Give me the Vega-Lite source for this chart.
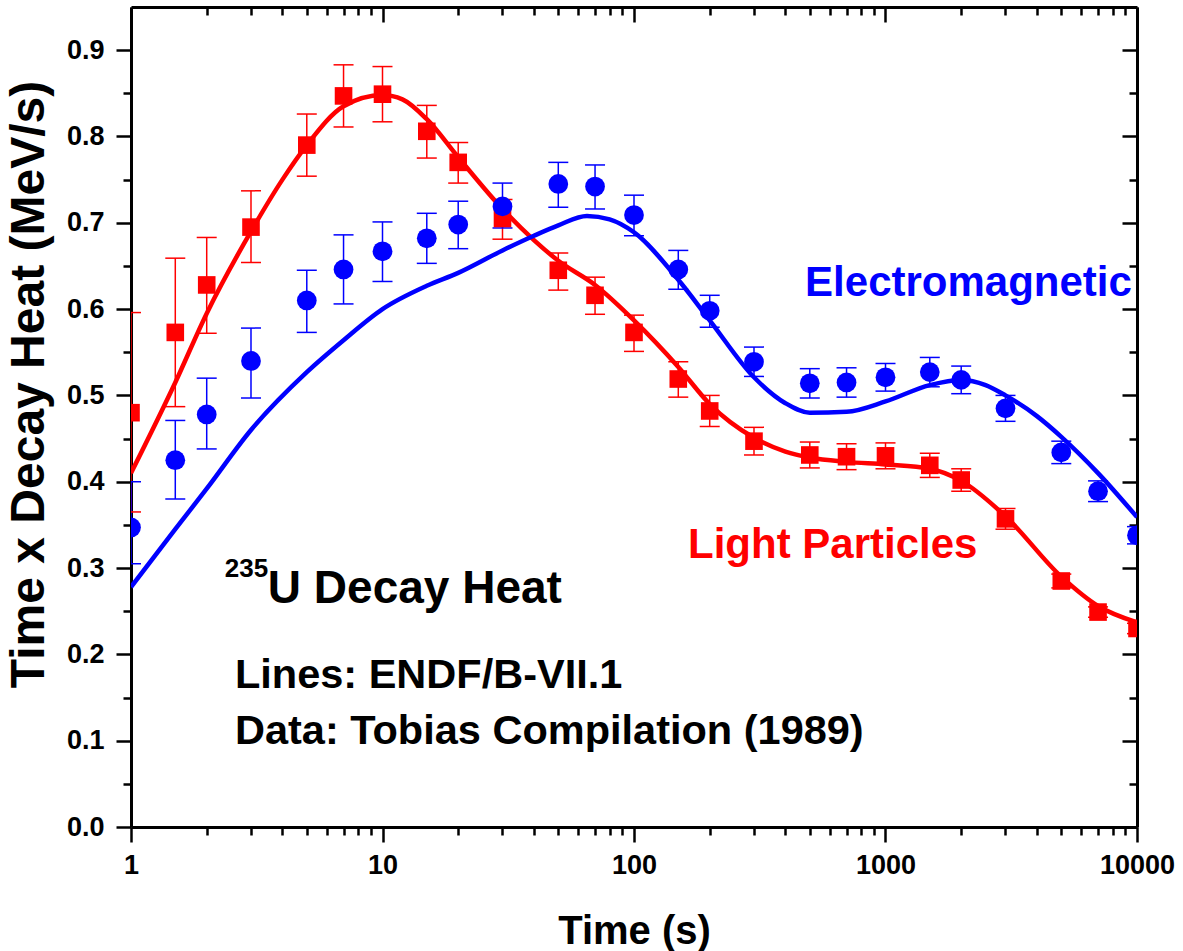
{
  "$schema": "https://vega.github.io/schema/vega-lite/v6.json",
  "width": 1006,
  "height": 820,
  "autosize": {"type": "none"},
  "padding": {"left": 131, "top": 7, "right": 46, "bottom": 124},
  "background": "white",
  "config": {
    "view": {"stroke": null},
    "font": "Liberation Sans",
    "axis": {
      "domainColor": "black", "domainWidth": 3, "tickColor": "black", "tickWidth": 2.5,
      "labelFont": "Liberation Sans", "labelFontWeight": "bold", "labelFontSize": 27, "labelColor": "black",
      "titleFont": "Liberation Sans", "titleFontWeight": "bold", "titleColor": "black", "grid": false
    }
  },
  "datasets": {
    "points": [
      {"series": "Light Particles", "t": 1, "v": 0.48, "lo": 0.365, "hi": 0.596},
      {"series": "Light Particles", "t": 1.5, "v": 0.573, "lo": 0.487, "hi": 0.659},
      {"series": "Light Particles", "t": 2, "v": 0.628, "lo": 0.572, "hi": 0.683},
      {"series": "Light Particles", "t": 3, "v": 0.695, "lo": 0.654, "hi": 0.737},
      {"series": "Light Particles", "t": 5, "v": 0.79, "lo": 0.754, "hi": 0.826},
      {"series": "Light Particles", "t": 7, "v": 0.847, "lo": 0.811, "hi": 0.883},
      {"series": "Light Particles", "t": 10, "v": 0.849, "lo": 0.817, "hi": 0.881},
      {"series": "Light Particles", "t": 15, "v": 0.806, "lo": 0.775, "hi": 0.836},
      {"series": "Light Particles", "t": 20, "v": 0.77, "lo": 0.746, "hi": 0.793},
      {"series": "Light Particles", "t": 30, "v": 0.705, "lo": 0.681, "hi": 0.727},
      {"series": "Light Particles", "t": 50, "v": 0.645, "lo": 0.622, "hi": 0.665},
      {"series": "Light Particles", "t": 70, "v": 0.616, "lo": 0.594, "hi": 0.637},
      {"series": "Light Particles", "t": 100, "v": 0.573, "lo": 0.551, "hi": 0.593},
      {"series": "Light Particles", "t": 150, "v": 0.519, "lo": 0.498, "hi": 0.539},
      {"series": "Light Particles", "t": 200, "v": 0.482, "lo": 0.464, "hi": 0.5},
      {"series": "Light Particles", "t": 300, "v": 0.447, "lo": 0.431, "hi": 0.463},
      {"series": "Light Particles", "t": 500, "v": 0.431, "lo": 0.416, "hi": 0.446},
      {"series": "Light Particles", "t": 700, "v": 0.429, "lo": 0.414, "hi": 0.444},
      {"series": "Light Particles", "t": 1000, "v": 0.43, "lo": 0.415, "hi": 0.445},
      {"series": "Light Particles", "t": 1500, "v": 0.419, "lo": 0.405, "hi": 0.433},
      {"series": "Light Particles", "t": 2000, "v": 0.402, "lo": 0.389, "hi": 0.415},
      {"series": "Light Particles", "t": 3000, "v": 0.357, "lo": 0.345, "hi": 0.369},
      {"series": "Light Particles", "t": 5000, "v": 0.285, "lo": 0.277, "hi": 0.293},
      {"series": "Light Particles", "t": 7000, "v": 0.249, "lo": 0.243, "hi": 0.255},
      {"series": "Light Particles", "t": 10000, "v": 0.23, "lo": 0.224, "hi": 0.236},
      {"series": "Electromagnetic", "t": 1, "v": 0.347, "lo": 0.305, "hi": 0.4},
      {"series": "Electromagnetic", "t": 1.5, "v": 0.425, "lo": 0.38, "hi": 0.471},
      {"series": "Electromagnetic", "t": 2, "v": 0.478, "lo": 0.438, "hi": 0.52},
      {"series": "Electromagnetic", "t": 3, "v": 0.54, "lo": 0.497, "hi": 0.578},
      {"series": "Electromagnetic", "t": 5, "v": 0.61, "lo": 0.573, "hi": 0.645},
      {"series": "Electromagnetic", "t": 7, "v": 0.646, "lo": 0.606, "hi": 0.686},
      {"series": "Electromagnetic", "t": 10, "v": 0.667, "lo": 0.632, "hi": 0.701},
      {"series": "Electromagnetic", "t": 15, "v": 0.682, "lo": 0.653, "hi": 0.711},
      {"series": "Electromagnetic", "t": 20, "v": 0.698, "lo": 0.67, "hi": 0.725},
      {"series": "Electromagnetic", "t": 30, "v": 0.719, "lo": 0.694, "hi": 0.746},
      {"series": "Electromagnetic", "t": 50, "v": 0.745, "lo": 0.718, "hi": 0.77},
      {"series": "Electromagnetic", "t": 70, "v": 0.742, "lo": 0.716, "hi": 0.767},
      {"series": "Electromagnetic", "t": 100, "v": 0.709, "lo": 0.685, "hi": 0.732},
      {"series": "Electromagnetic", "t": 150, "v": 0.646, "lo": 0.623, "hi": 0.668},
      {"series": "Electromagnetic", "t": 200, "v": 0.598, "lo": 0.579, "hi": 0.616},
      {"series": "Electromagnetic", "t": 300, "v": 0.539, "lo": 0.522, "hi": 0.556},
      {"series": "Electromagnetic", "t": 500, "v": 0.514, "lo": 0.497, "hi": 0.531},
      {"series": "Electromagnetic", "t": 700, "v": 0.515, "lo": 0.498, "hi": 0.532},
      {"series": "Electromagnetic", "t": 1000, "v": 0.521, "lo": 0.505, "hi": 0.537},
      {"series": "Electromagnetic", "t": 1500, "v": 0.527, "lo": 0.51, "hi": 0.544},
      {"series": "Electromagnetic", "t": 2000, "v": 0.518, "lo": 0.502, "hi": 0.534},
      {"series": "Electromagnetic", "t": 3000, "v": 0.485, "lo": 0.47, "hi": 0.5},
      {"series": "Electromagnetic", "t": 5000, "v": 0.434, "lo": 0.421, "hi": 0.447},
      {"series": "Electromagnetic", "t": 7000, "v": 0.389, "lo": 0.377, "hi": 0.401},
      {"series": "Electromagnetic", "t": 10000, "v": 0.338, "lo": 0.328, "hi": 0.348}
    ],
    "curves": [
      {"series": "Light Particles", "t": 1, "v": 0.41},
      {"series": "Light Particles", "t": 1.5, "v": 0.515},
      {"series": "Light Particles", "t": 2, "v": 0.595},
      {"series": "Light Particles", "t": 3, "v": 0.69},
      {"series": "Light Particles", "t": 4, "v": 0.75},
      {"series": "Light Particles", "t": 5, "v": 0.79},
      {"series": "Light Particles", "t": 7, "v": 0.835},
      {"series": "Light Particles", "t": 10, "v": 0.848},
      {"series": "Light Particles", "t": 12, "v": 0.843},
      {"series": "Light Particles", "t": 15, "v": 0.82},
      {"series": "Light Particles", "t": 20, "v": 0.776},
      {"series": "Light Particles", "t": 30, "v": 0.716},
      {"series": "Light Particles", "t": 40, "v": 0.68},
      {"series": "Light Particles", "t": 50, "v": 0.656},
      {"series": "Light Particles", "t": 70, "v": 0.628},
      {"series": "Light Particles", "t": 100, "v": 0.587},
      {"series": "Light Particles", "t": 150, "v": 0.533},
      {"series": "Light Particles", "t": 200, "v": 0.49},
      {"series": "Light Particles", "t": 300, "v": 0.451},
      {"series": "Light Particles", "t": 400, "v": 0.435},
      {"series": "Light Particles", "t": 500, "v": 0.428},
      {"series": "Light Particles", "t": 700, "v": 0.423},
      {"series": "Light Particles", "t": 1000, "v": 0.42},
      {"series": "Light Particles", "t": 1500, "v": 0.415},
      {"series": "Light Particles", "t": 2000, "v": 0.401},
      {"series": "Light Particles", "t": 3000, "v": 0.36},
      {"series": "Light Particles", "t": 5000, "v": 0.29},
      {"series": "Light Particles", "t": 7000, "v": 0.256},
      {"series": "Light Particles", "t": 10000, "v": 0.237},
      {"series": "Electromagnetic", "t": 1, "v": 0.278},
      {"series": "Electromagnetic", "t": 1.5, "v": 0.345},
      {"series": "Electromagnetic", "t": 2, "v": 0.392},
      {"series": "Electromagnetic", "t": 3, "v": 0.46},
      {"series": "Electromagnetic", "t": 5, "v": 0.527},
      {"series": "Electromagnetic", "t": 7, "v": 0.564},
      {"series": "Electromagnetic", "t": 10, "v": 0.6},
      {"series": "Electromagnetic", "t": 15, "v": 0.627},
      {"series": "Electromagnetic", "t": 20, "v": 0.642},
      {"series": "Electromagnetic", "t": 30, "v": 0.668},
      {"series": "Electromagnetic", "t": 40, "v": 0.685},
      {"series": "Electromagnetic", "t": 50, "v": 0.697},
      {"series": "Electromagnetic", "t": 65, "v": 0.708},
      {"series": "Electromagnetic", "t": 80, "v": 0.704},
      {"series": "Electromagnetic", "t": 100, "v": 0.689},
      {"series": "Electromagnetic", "t": 150, "v": 0.634},
      {"series": "Electromagnetic", "t": 200, "v": 0.587},
      {"series": "Electromagnetic", "t": 300, "v": 0.521},
      {"series": "Electromagnetic", "t": 400, "v": 0.491},
      {"series": "Electromagnetic", "t": 500, "v": 0.48},
      {"series": "Electromagnetic", "t": 700, "v": 0.481},
      {"series": "Electromagnetic", "t": 1000, "v": 0.493},
      {"series": "Electromagnetic", "t": 1500, "v": 0.512},
      {"series": "Electromagnetic", "t": 2000, "v": 0.518},
      {"series": "Electromagnetic", "t": 2500, "v": 0.512},
      {"series": "Electromagnetic", "t": 3000, "v": 0.5},
      {"series": "Electromagnetic", "t": 4000, "v": 0.476},
      {"series": "Electromagnetic", "t": 5000, "v": 0.452},
      {"series": "Electromagnetic", "t": 7000, "v": 0.41},
      {"series": "Electromagnetic", "t": 10000, "v": 0.359}
    ]
  },
  "resolve": {"axis": {"x": "independent", "y": "independent"}},
  "layer": [
    {
      "data": {"name": "curves"},
      "mark": {"type": "line", "strokeWidth": 4.5, "interpolate": "monotone", "clip": true},
      "encoding": {
        "x": {
          "field": "t", "type": "quantitative",
          "scale": {"type": "log", "domain": [1, 10000], "nice": false},
          "axis": {
            "orient": "bottom", "title": "Time (s)", "titleFontSize": 40, "titlePadding": 33,
            "values": [1,2,3,4,5,6,7,8,9,10,20,30,40,50,60,70,80,90,100,200,300,400,500,600,700,800,900,1000,2000,3000,4000,5000,6000,7000,8000,9000,10000],
            "labelExpr": "indexof([1,10,100,1000,10000], datum.value) >= 0 ? datum.value + '' : ''",
            "tickSize": {"condition": {"test": "indexof([1,10,100,1000,10000], datum.value) >= 0", "value": 15}, "value": 8},
            "labelPadding": 10, "labelFlush": false, "labelOverlap": false
          }
        },
        "y": {
          "field": "v", "type": "quantitative",
          "scale": {"domain": [0, 0.95], "nice": false, "zero": false},
          "axis": {
            "orient": "left", "title": "Time x Decay Heat (MeV/s)", "titleFontSize": 48, "titlePadding": 13, "titleY": 377,
            "values": [0,0.05,0.1,0.15,0.2,0.25,0.3,0.35,0.4,0.45,0.5,0.55,0.6,0.65,0.7,0.75,0.8,0.85,0.9],
            "labelExpr": "abs(datum.value*10 - round(datum.value*10)) < 0.001 ? format(datum.value, '.1f') : ''",
            "tickSize": {"condition": {"test": "abs(datum.value*10 - round(datum.value*10)) < 0.001", "value": 15}, "value": 8},
            "labelPadding": 12, "labelOverlap": false
          }
        },
        "color": {"field": "series", "type": "nominal", "scale": {"domain": ["Light Particles", "Electromagnetic"], "range": ["#ff0000", "#0000ff"]}, "legend": null},
        "detail": {"field": "series"}
      }
    },
    {
      "data": {"name": "points"},
      "mark": {"type": "rule", "strokeWidth": 1.5, "clip": true},
      "encoding": {
        "x": {"field": "t", "type": "quantitative", "axis": null},
        "y": {"field": "lo", "type": "quantitative", "axis": null},
        "y2": {"field": "hi"},
        "color": {"field": "series", "type": "nominal", "legend": null}
      }
    },
    {
      "data": {"name": "points"},
      "mark": {"type": "tick", "orient": "horizontal", "size": 20, "thickness": 1.5, "clip": true, "opacity": 1},
      "encoding": {
        "x": {"field": "t", "type": "quantitative", "axis": null},
        "y": {"field": "lo", "type": "quantitative", "axis": null},
        "color": {"field": "series", "type": "nominal", "legend": null}
      }
    },
    {
      "data": {"name": "points"},
      "mark": {"type": "tick", "orient": "horizontal", "size": 20, "thickness": 1.5, "clip": true, "opacity": 1},
      "encoding": {
        "x": {"field": "t", "type": "quantitative", "axis": null},
        "y": {"field": "hi", "type": "quantitative", "axis": null},
        "color": {"field": "series", "type": "nominal", "legend": null}
      }
    },
    {
      "data": {"name": "points"},
      "mark": {"type": "point", "filled": true, "opacity": 1, "clip": true},
      "encoding": {
        "x": {
          "field": "t", "type": "quantitative",
          "axis": {
            "orient": "top", "title": null, "labels": false,
            "values": [1,2,3,4,5,6,7,8,9,10,20,30,40,50,60,70,80,90,100,200,300,400,500,600,700,800,900,1000,2000,3000,4000,5000,6000,7000,8000,9000,10000],
            "tickSize": {"condition": {"test": "indexof([1,10,100,1000,10000], datum.value) >= 0", "value": -15}, "value": -8}
          }
        },
        "y": {
          "field": "v", "type": "quantitative",
          "axis": {
            "orient": "right", "title": null, "labels": false,
            "values": [0,0.05,0.1,0.15,0.2,0.25,0.3,0.35,0.4,0.45,0.5,0.55,0.6,0.65,0.7,0.75,0.8,0.85,0.9],
            "tickSize": {"condition": {"test": "abs(datum.value*10 - round(datum.value*10)) < 0.001", "value": -15}, "value": -8}
          }
        },
        "color": {"field": "series", "type": "nominal", "legend": null},
        "shape": {"field": "series", "type": "nominal", "scale": {"domain": ["Light Particles", "Electromagnetic"], "range": ["square", "circle"]}, "legend": null},
        "size": {"field": "series", "type": "nominal", "scale": {"domain": ["Light Particles", "Electromagnetic"], "range": [310, 390]}, "legend": null}
      }
    },
    {
      "data": {"values": [{}]},
      "mark": {"type": "text", "text": "Electromagnetic", "color": "#0000ff", "fontSize": 42, "fontWeight": "bold", "align": "left", "baseline": "alphabetic"},
      "encoding": {
        "x": {"datum": 479, "type": "quantitative", "axis": null},
        "y": {"datum": 0.615, "type": "quantitative", "axis": null}
      }
    },
    {
      "data": {"values": [{}]},
      "mark": {"type": "text", "text": "Light Particles", "color": "#ff0000", "fontSize": 42, "fontWeight": "bold", "align": "left", "baseline": "alphabetic"},
      "encoding": {
        "x": {"datum": 164, "type": "quantitative", "axis": null},
        "y": {"datum": 0.312, "type": "quantitative", "axis": null}
      }
    },
    {
      "data": {"values": [{}]},
      "mark": {"type": "text", "text": "235", "color": "black", "fontSize": 26, "fontWeight": "bold", "align": "left", "baseline": "alphabetic"},
      "encoding": {
        "x": {"datum": 2.36, "type": "quantitative", "axis": null},
        "y": {"datum": 0.29, "type": "quantitative", "axis": null}
      }
    },
    {
      "data": {"values": [{}]},
      "mark": {"type": "text", "text": "U Decay Heat", "color": "black", "fontSize": 46, "fontWeight": "bold", "align": "left", "baseline": "alphabetic"},
      "encoding": {
        "x": {"datum": 3.5, "type": "quantitative", "axis": null},
        "y": {"datum": 0.2595, "type": "quantitative", "axis": null}
      }
    },
    {
      "data": {"values": [{}]},
      "mark": {"type": "text", "text": "Lines: ENDF/B-VII.1", "color": "black", "fontSize": 41.5, "fontWeight": "bold", "align": "left", "baseline": "alphabetic"},
      "encoding": {
        "x": {"datum": 2.59, "type": "quantitative", "axis": null},
        "y": {"datum": 0.161, "type": "quantitative", "axis": null}
      }
    },
    {
      "data": {"values": [{}]},
      "mark": {"type": "text", "text": "Data: Tobias Compilation (1989)", "color": "black", "fontSize": 41.5, "fontWeight": "bold", "align": "left", "baseline": "alphabetic"},
      "encoding": {
        "x": {"datum": 2.59, "type": "quantitative", "axis": null},
        "y": {"datum": 0.096, "type": "quantitative", "axis": null}
      }
    }
  ]
}
